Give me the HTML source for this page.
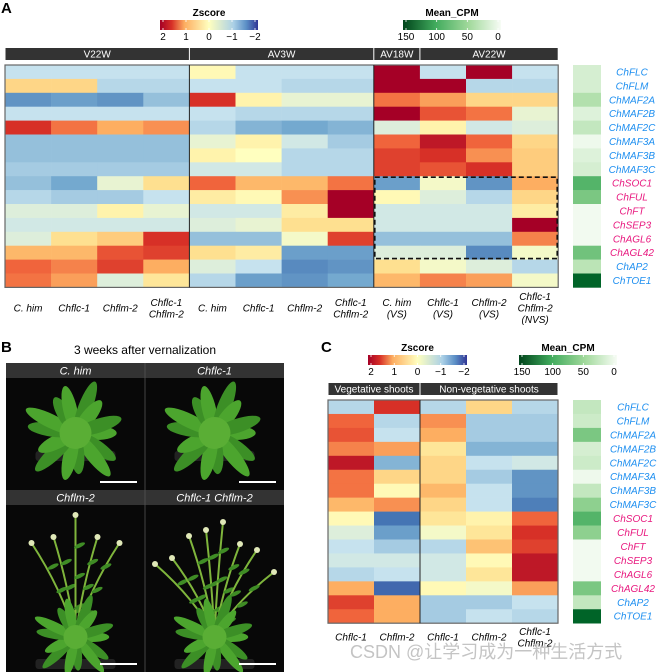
<!DOCTYPE html>
<html><head><meta charset="utf-8"><style>
body{margin:0;background:#fff}
svg{display:block;font-family:"Liberation Sans","Noto Sans CJK SC",sans-serif}
.g{font-style:italic;font-size:10px}
</style></head><body>
<svg id="fig" width="657" height="672" viewBox="0 0 657 672">
<defs>
<linearGradient id="zg" x1="0" x2="1"><stop offset="0" stop-color="#a50026"/><stop offset="0.12" stop-color="#d73027"/><stop offset="0.25" stop-color="#fdae61"/><stop offset="0.5" stop-color="#ffffbf"/><stop offset="0.75" stop-color="#abd0e6"/><stop offset="0.88" stop-color="#5b8fc6"/><stop offset="1" stop-color="#313695"/></linearGradient>
<linearGradient id="gg" x1="0" x2="1"><stop offset="0" stop-color="#00441b"/><stop offset="0.33" stop-color="#41ab5d"/><stop offset="0.67" stop-color="#a1d99b"/><stop offset="1" stop-color="#f7fcf5"/></linearGradient>
</defs>
<g id="A"></g>
<g id="B"></g>
<g id="C"></g>
<text x="350" y="658" font-size="18" fill="#c4c4c4">CSDN @让学习成为一种生活方式</text>
</svg>
<script>
const genes=["ChFLC","ChFLM","ChMAF2A","ChMAF2B","ChMAF2C","ChMAF3A","ChMAF3B","ChMAF3C","ChSOC1","ChFUL","ChFT","ChSEP3","ChAGL6","ChAGL42","ChAP2","ChTOE1"];
const geneGroup=["b","b","b","b","b","b","b","b","p","p","p","p","p","p","b","b"];
const colsA=[["C. him"],["Chflc-1"],["Chflm-2"],["Chflc-1","Chflm-2"],["C. him"],["Chflc-1"],["Chflm-2"],["Chflc-1","Chflm-2"],["C. him","(VS)"],["Chflc-1","(VS)"],["Chflm-2","(VS)"],["Chflc-1","Chflm-2","(NVS)"]];
const groupsA=[["V22W",0,4],["AV3W",4,8],["AV18W",8,9],["AV22W",9,12]];
const zA=[
[-0.5,-0.5,-0.5,-0.5,0.1,-0.5,-0.5,-0.5,2,-0.5,2,-0.5],
[0.6,0.6,-0.6,-0.6,-0.5,-0.5,-0.6,-0.6,2,2,-0.6,-0.6],
[-1.2,-1.1,-1.2,-0.8,1.8,0.2,-0.2,-0.2,1.4,1.1,0.6,0.6],
[-0.5,-0.5,-0.5,-0.5,-0.5,-0.6,-0.6,-0.6,2,1.6,1.4,-0.2],
[1.8,1.4,1.0,1.2,-0.6,-0.9,-1.0,-0.9,-0.3,0.2,-0.4,-0.3],
[-0.8,-0.8,-0.8,-0.8,-0.2,0.2,-0.4,-0.7,1.5,1.9,1.5,0.6],
[-0.8,-0.8,-0.8,-0.8,0.2,0.0,-0.6,-0.6,1.7,1.8,1.2,0.7],
[-0.7,-0.7,-0.7,-0.7,-0.4,-0.4,-0.6,-0.6,1.7,1.6,1.8,0.7],
[-0.8,-1.0,-0.2,0.5,1.5,0.9,0.9,1.4,-1.1,-0.1,-1.2,1.0],
[-0.6,-0.7,-0.7,-0.5,0.3,0.1,1.2,2,0.1,-0.3,-0.6,0.6],
[-0.3,-0.3,0.2,-0.2,-0.4,-0.4,0.3,2,-0.4,-0.4,-0.4,0.3],
[-0.4,-0.4,-0.4,-0.4,-0.3,-0.2,0.5,0.5,-0.4,-0.4,-0.4,2],
[-0.3,0.5,0.7,1.8,-0.8,-0.8,-0.1,1.7,-0.8,-0.8,-0.8,1.3],
[0.9,0.9,1.6,1.7,0.5,0.3,-1.1,-1.1,-0.3,-0.3,-1.3,-0.1],
[1.5,1.3,1.7,1.0,-0.3,-0.5,-1.3,-1.2,0.5,-0.1,-0.3,-0.6],
[1.4,1.1,-0.3,0.4,-0.6,-1.1,-1.2,-1.0,0.9,1.3,1.1,-0.1]];
const cpmA=[20,20,40,15,30,5,15,20,90,70,3,3,3,75,35,150];
const colsC=[["Chflc-1"],["Chflm-2"],["Chflc-1"],["Chflm-2"],["Chflc-1","Chflm-2"]];
const groupsC=[["Vegetative shoots",0,2],["Non-vegetative shoots",2,5]];
const zC=[
[-0.6,1.8,-0.6,0.6,-0.6],[1.5,-0.6,1.2,-0.7,-0.7],[1.6,-0.5,1.0,-0.7,-0.7],[1.3,1.1,0.4,-0.9,-0.9],
[1.9,-0.9,0.6,-0.5,-0.4],[1.4,0.6,0.6,-0.7,-1.2],[1.4,0.1,0.9,-0.5,-1.2],[0.9,1.2,0.6,-0.5,-1.4],
[0.1,-1.5,0.4,0.2,1.5],[-0.3,-1.1,-0.1,0.4,1.8],[-0.5,-0.7,-0.6,0.8,1.7],[-0.4,-0.4,-0.4,0.1,1.9],
[-0.6,-0.5,-0.4,0.4,1.9],[1.0,-1.6,0.1,-0.1,1.1],[1.7,1.0,-0.7,-0.7,-0.5],[1.5,1.0,-0.7,-0.5,-0.6]];
const cpmC=[30,25,70,20,25,5,30,60,90,60,3,3,3,70,30,150];
const zTicks=["2","1","0","−1","−2"];
const cTicks=["150","100","50","0"];

const NS="http://www.w3.org/2000/svg";
function mk(p,t,a,txt){const e=document.createElementNS(NS,t);for(const k in a)e.setAttribute(k,a[k]);if(txt!==undefined)e.textContent=txt;p.appendChild(e);return e;}
function lerp(stops,v){for(let i=0;i<stops.length-1;i++){const[a,ca]=stops[i],[b,cb]=stops[i+1];if(v>=a&&v<=b){const t=(v-a)/(b-a);return "rgb("+ca.map((c,j)=>Math.round(c+(cb[j]-c)*t)).join(",")+")";}}return "rgb("+stops[v<stops[0][0]?0:stops.length-1][1].join(",")+")";}
const zStops=[[-2,[49,54,149]],[-1.5,[69,117,180]],[-1,[116,169,207]],[-0.5,[198,226,238]],[0,[255,255,191]],[0.5,[254,224,144]],[1,[253,174,97]],[1.5,[240,100,60]],[1.8,[215,48,39]],[2,[165,0,38]]];
const gStops=[[0,[247,252,245]],[50,[161,217,155]],[100,[65,171,93]],[150,[0,100,40]]];
const zColor=v=>lerp(zStops,v), gColor=v=>lerp(gStops,v);

function colorbar(p,x,y,w,title,grad,ticks,name){
 const g=mk(p,"g",{});
 
 
 mk(g,"text",{x:x+w/2,y:y-4,"font-size":10,"font-weight":"bold","text-anchor":"middle"},title);
 mk(g,"rect",{x:x,y:y,width:w,height:10,fill:"url(#"+grad+")"});
 ticks.forEach((t,i)=>{const tx=x+3+(w-6)*i/(ticks.length-1);
  mk(g,"line",{x1:tx,x2:tx,y1:y,y2:y+2,stroke:"#fff","stroke-width":0.8});mk(g,"line",{x1:tx,x2:tx,y1:y+8,y2:y+10,stroke:"#fff","stroke-width":0.8});
  mk(g,"text",{x:tx,y:y+20,"font-size":10,"text-anchor":"middle"},t);});
}
function heat(p,X0,Y0,cw,rh,z,cpm,groups,cols,barY,lblY,greenX,lblX,dividers){
 const nr=z.length,nc=z[0].length;
 const xs=c=>X0+c*cw, ys=r=>Y0+r*rh;
 groups.forEach(([n,a,b])=>{const gg=mk(p,"g",{});
  
  
  mk(gg,"rect",{x:xs(a)+0.5,y:barY,width:(b-a)*cw-1,height:12,fill:"#333"});
  mk(gg,"text",{x:xs(a)+(b-a)*cw/2,y:barY+9.5,"font-size":10,fill:"#fff","text-anchor":"middle"},n);});
 const hg=mk(p,"g",{});
 
 
 for(let r=0;r<nr;r++)for(let c=0;c<nc;c++){const e=mk(hg,"rect",{x:xs(c),y:ys(r),width:cw+0.3,height:rh+0.3,fill:zColor(z[r][c])});
  
  }
 mk(hg,"rect",{x:X0,y:Y0,width:nc*cw,height:nr*rh,fill:"none",stroke:"#666","stroke-width":1.2});
 dividers.forEach(d=>mk(hg,"line",{x1:xs(d),x2:xs(d),y1:Y0,y2:Y0+nr*rh,stroke:"#222","stroke-width":1}));
 cpm.forEach((v,r)=>{const e=mk(p,"rect",{x:greenX,y:ys(r),width:28,height:rh+0.3,fill:gColor(v)});
  
  
  const t=mk(p,"text",{x:lblX,y:ys(r)+rh/2+3.5,"text-anchor":"middle",class:"g",fill:geneGroup[r]=="p"?"#e8197f":"#1e8ff0"},genes[r]);
  
  });
 cols.forEach((ls,c)=>{ls.forEach((l,i)=>{const t=mk(p,"text",{x:xs(c)+cw/2,y:lblY+(i-(ls.length-1)/2)*11.5+3.5,"text-anchor":"middle",class:"g","font-style":l.startsWith("(")?"normal":"italic"},l);
  
  });});
 return {xs,ys};
}
const A=document.getElementById("A");
mk(A,"text",{x:1,y:13,"font-size":15,"font-weight":"bold"},"A");
colorbar(A,160,20,98,"Zscore","zg",zTicks,"zscore-legend-a");
colorbar(A,403,20,98,"Mean_CPM","gg",cTicks,"cpm-legend-a");
const ha=heat(A,5,65,46.1,13.9,zA,cpmA,groupsA,colsA,48,308,573,632,[4,8]);
mk(A,"rect",{x:ha.xs(8)+1,y:ha.ys(8)+1,width:46.1*4-2,height:13.9*6-2,fill:"none",stroke:"#111","stroke-width":1.6,"stroke-dasharray":"5,3"});

const C=document.getElementById("C");
mk(C,"text",{x:321,y:352,"font-size":15,"font-weight":"bold"},"C");
colorbar(C,368,355,99,"Zscore","zg",zTicks,"zscore-legend-c");
colorbar(C,519,355,98,"Mean_CPM","gg",cTicks,"cpm-legend-c");
heat(C,328,400,46,13.95,zC,cpmC,groupsC,colsC,383,637,573,633,[2]);

const B=document.getElementById("B");
mk(B,"text",{x:1,y:352,"font-size":15,"font-weight":"bold"},"B");
mk(B,"text",{x:145,y:354,"font-size":12,"text-anchor":"middle"},"3 weeks after vernalization");
const photos=[[6,363,139,127,"C. him",0],[145,363,139,127,"Chflc-1",0],[6,490,139,182,"Chflm-2",1],[145,490,139,182,"Chflc-1 Chflm-2",1]];
photos.forEach(([x,y,w,h,l,tall])=>{const g=mk(B,"g",{});
 
 
 mk(g,"rect",{x,y,width:w,height:h,fill:"#080808"});
 mk(g,"rect",{x,y,width:w,height:15,fill:"#333"});
 mk(g,"text",{x:x+w/2,y:y+11.5,"font-size":11,fill:"#fff","text-anchor":"middle","font-style":"italic"},l);
 const cx=x+w/2, cy=tall?y+h-35:y+70;
 mk(g,"rect",{x:cx-40,y:cy+(tall?22:18),width:80,height:10,rx:3,fill:"#222"});
 if(tall){const n=l.length>8?8:5;for(let i=0;i<n;i++){const dx=(i-(n-1)/2)*(l.length>8?17:22);const ty=y+25+Math.abs(i-(n-1)/2)*14+(i%2)*8;
  mk(g,"path",{d:`M${cx} ${cy} Q${cx+dx*0.3} ${(cy+ty)/2} ${cx+dx} ${ty}`,stroke:"#7fb53c","stroke-width":2,fill:"none"});
  for(let k=1;k<4;k++){const px=cx+dx*(k/4)*0.8, py=cy+(ty-cy)*k/4;mk(g,"ellipse",{cx:px+4,cy:py,rx:6,ry:2,fill:"#3f8c25",transform:`rotate(-25 ${px+4} ${py})`});}
  mk(g,"circle",{cx:cx+dx,cy:ty,r:3,fill:"#e0e8b8"});}}
 const nl=14,R=tall?45:55;
 for(let i=0;i<nl;i++){const a=i*360/nl+(i%2)*8;const rr=R*(0.75+0.25*((i*7)%3)/2);
  mk(g,"ellipse",{cx:cx+rr/2,cy,rx:rr/2,ry:tall?5:7,fill:i%2?"#3c8f26":"#4ca52e",transform:`rotate(${a} ${cx} ${cy})`});}
 mk(g,"circle",{cx,cy,r:tall?12:16,fill:"#5aae35"});
 mk(g,"line",{x1:x+w-45,x2:x+w-8,y1:y+h-8,y2:y+h-8,stroke:"#fff","stroke-width":2});});
mk(B,"line",{x1:145,x2:145,y1:363,y2:672,stroke:"#555","stroke-width":0.8});
</script>
</body></html>
